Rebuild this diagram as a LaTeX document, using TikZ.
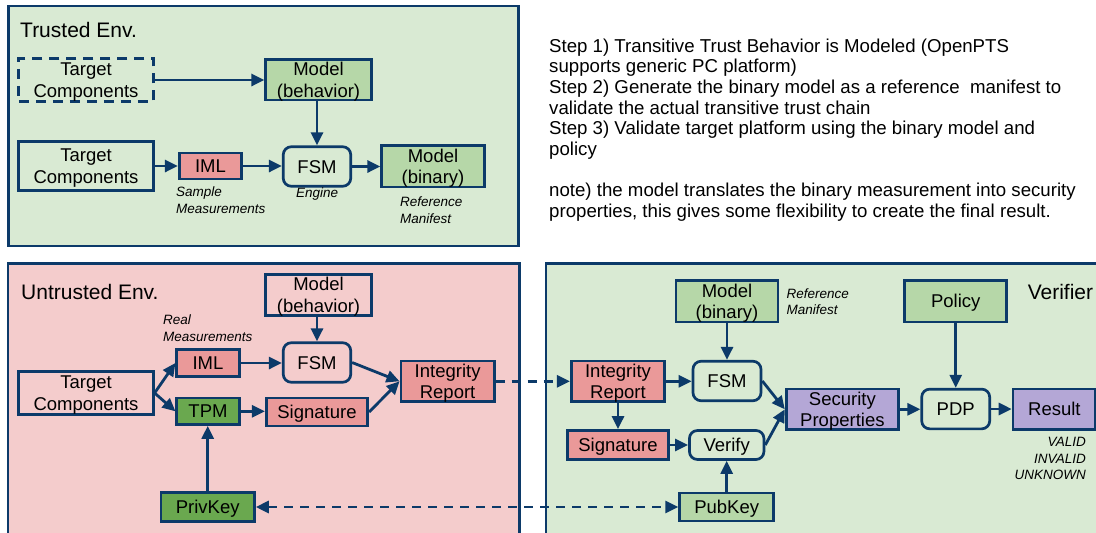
\documentclass[tikz,border=0pt]{standalone}
\usepackage{fontspec}
\setmainfont{Liberation Sans}
\usetikzlibrary{arrows.meta}

\definecolor{edge}{RGB}{12,58,105}
\definecolor{envgreen}{RGB}{217,234,211}
\definecolor{boxgreen}{RGB}{182,215,168}
\definecolor{envpink}{RGB}{244,204,204}
\definecolor{boxpink}{RGB}{234,153,153}
\definecolor{tpmgreen}{RGB}{106,168,79}
\definecolor{boxpurple}{RGB}{180,167,214}

\begin{document}
\begin{tikzpicture}[x=1pt,y=-1pt,
  env/.style={draw=edge, line width=2.6pt},
  blk/.style={draw=edge, line width=2.7pt, inner sep=0pt, align=center,
    font=\fontsize{18.5}{21.5}\selectfont, text height=13.2pt, text depth=0pt},
  two/.style={text height=34.7pt, text depth=0pt},
  rblk/.style={blk, rounded corners=8pt},
  tip/.tip={Triangle[length=13pt,width=12pt]},
  conn/.style={draw=edge, line width=2.8pt, -tip},
  dconn/.style={conn, dash pattern=on 9pt off 7pt},
  lbl/.style={font=\fontsize{13.5}{16.5}\selectfont\itshape, inner sep=0pt, align=left},
  envtitle/.style={font=\fontsize{21}{24}\selectfont, inner sep=0pt, anchor=west},
]
\useasboundingbox (0,0) rectangle (1096,533);

% environments
\draw[env, fill=envgreen] (8.4,6) rectangle (518.6,246);
\draw[env, fill=envpink] (8,263.3) rectangle (519.5,545);
\draw[env, fill=envgreen] (546,263.5) rectangle (1110,545);

\node[envtitle] (ttrust) at (20,30) {Trusted Env.};
\node[envtitle] (tuntrust) at (21,291.7) {Untrusted Env.};
\node[envtitle] (tverif) at (1027.6,291.7) {Verifier};

% notes on the right
\node[anchor=north west, inner sep=0pt, align=left,
      font=\fontsize{18.65}{20.7}\selectfont] (steps) at (549,38.3)
 {Step 1) Transitive Trust Behavior is Modeled (OpenPTS\\
  supports generic PC platform)\\
  Step 2) Generate the binary model as a reference\ \ manifest to\\
  validate the actual transitive trust chain\\
  Step 3) Validate target platform using the binary model and\\
  policy\\[20.7pt]
  note) the model translates the binary measurement into security\\
  properties, this gives some flexibility to create the final result.};

% ---------- trusted environment ----------
\node[blk, two, dash pattern=on 10pt off 7pt, minimum width=134.5pt, minimum height=43.5pt] (tc1) at (86,80) {Target\\Components};
\node[blk, two, fill=boxgreen, minimum width=105.5pt, minimum height=40.5pt] (mb1) at (318.5,79.7) {Model\\(behavior)};
\node[blk, two, minimum width=134.5pt, minimum height=49.5pt] (tc2) at (86,166) {Target\\Components};
\node[blk, fill=boxpink, minimum width=62.5pt, minimum height=26pt] (iml1) at (210.5,166) {IML};
\node[rblk, minimum width=67.5pt, minimum height=39.5pt] (fsm1) at (317,166.5) {FSM};
\node[blk, two, fill=boxgreen, minimum width=102.5pt, minimum height=41.5pt] (mbin1) at (433,166.3) {Model\\(binary)};

\node[lbl, anchor=north west] (lsample) at (176,186.7) {Sample\\Measurements};
\node[lbl, anchor=base west] (lengine) at (296,197.9) {Engine};
\node[lbl, anchor=north west] (lref1) at (400,196.7) {Reference\\Manifest};

\draw[conn] (tc1.east) -- (tc1.east -| mb1.west);
\draw[conn] (mb1.south -| fsm1.north) -- (fsm1.north);
\draw[conn] (tc2.east) -- (tc2.east -| iml1.west);
\draw[conn] (iml1.east) -- (iml1.east -| fsm1.west);
\draw[conn] (fsm1.east) -- (fsm1.east -| mbin1.west);

% ---------- untrusted environment ----------
\node[blk, two, minimum width=105.5pt, minimum height=40.5pt] (mb2) at (318.5,295) {Model\\(behavior)};
\node[blk, fill=boxpink, minimum width=62.5pt, minimum height=26.5pt] (iml2) at (208,363) {IML};
\node[rblk, minimum width=67.5pt, minimum height=39.5pt] (fsm2) at (317,362.5) {FSM};
\node[blk, two, fill=boxpink, minimum width=93.5pt, minimum height=40.5pt] (ir2) at (447.6,381.3) {Integrity\\Report};
\node[blk, two, minimum width=134.5pt, minimum height=43.5pt] (tc3) at (86,393) {Target\\Components};
\node[blk, fill=tpmgreen, minimum width=62.5pt, minimum height=26.5pt] (tpm) at (208,411.3) {TPM};
\node[blk, fill=boxpink, minimum width=101.5pt, minimum height=28pt] (sig2) at (317,412) {Signature};
\node[blk, fill=tpmgreen, minimum width=93.5pt, minimum height=28.5pt] (priv) at (207.7,507) {PrivKey};

\node[lbl, anchor=north west] (lreal) at (163,315) {Real\\Measurements};

\draw[conn] (mb2.south -| fsm2.north) -- (fsm2.north);
\draw[conn] (tc3.east) -- (iml2.west);
\draw[conn] (tc3.east) -- (tpm.west);
\draw[conn] (iml2.east) -- (iml2.east -| fsm2.west);
\draw[conn] (tpm.east) -- (tpm.east -| sig2.west);
\draw[conn] (fsm2.east) -- (ir2.west);
\draw[conn] (sig2.east) -- (ir2.west);
\draw[conn] (priv.north) -- (priv.north |- tpm.south);

% ---------- verifier ----------
\node[blk, two, fill=boxgreen, minimum width=102pt, minimum height=41.5pt] (mbin3) at (727,301.3) {Model\\(binary)};
\node[blk, fill=boxgreen, minimum width=102pt, minimum height=41.5pt] (pol) at (955.7,301.3) {Policy};
\node[blk, two, fill=boxpink, minimum width=93.5pt, minimum height=40.5pt] (ir3) at (618,381.3) {Integrity\\Report};
\node[rblk, minimum width=68pt, minimum height=39.5pt] (fsm3) at (727,381) {FSM};
\node[blk, fill=boxpink, minimum width=101.5pt, minimum height=29pt] (sig3) at (618,445) {Signature};
\node[rblk, minimum width=74.5pt, minimum height=29pt] (ver) at (726.7,445) {Verify};
\node[blk, two, fill=boxpurple, minimum width=112.5pt, minimum height=40.5pt] (sp) at (842.4,409.3) {Security\\Properties};
\node[rblk, minimum width=68pt, minimum height=39.7pt] (pdp) at (955.7,409) {PDP};
\node[blk, fill=boxpurple, minimum width=82.7pt, minimum height=40.5pt] (res) at (1054.4,409.3) {Result};
\node[blk, fill=boxgreen, minimum width=94pt, minimum height=28pt] (pub) at (726.7,507) {PubKey};

\node[lbl, anchor=north west] (lref3) at (786.5,288.3) {Reference\\Manifest};
\node[lbl, anchor=north east, align=right] (lres) at (1086,437.3) {VALID\\INVALID\\UNKNOWN};

\draw[conn] (mbin3.south) -- (mbin3.south |- fsm3.north);
\draw[conn] (ir3.east) -- (ir3.east -| fsm3.west);
\draw[conn] (ir3.south) -- (ir3.south |- sig3.north);
\draw[conn] (sig3.east) -- (sig3.east -| ver.west);
\draw[conn] (fsm3.east) -- (sp.west);
\draw[conn] (ver.east) -- (sp.west);
\draw[conn] (pol.south) -- (pol.south |- pdp.north);
\draw[conn] (sp.east) -- (sp.east -| pdp.west);
\draw[conn] (pdp.east) -- (pdp.east -| res.west);
\draw[conn] (pub.north) -- (pub.north |- ver.south);

% links between the two sides
\draw[dconn] (ir2.east) -- (ir2.east -| ir3.west);
\draw[dconn, tip-tip] (priv.east) -- (pub.west);
\end{tikzpicture}
\end{document}
